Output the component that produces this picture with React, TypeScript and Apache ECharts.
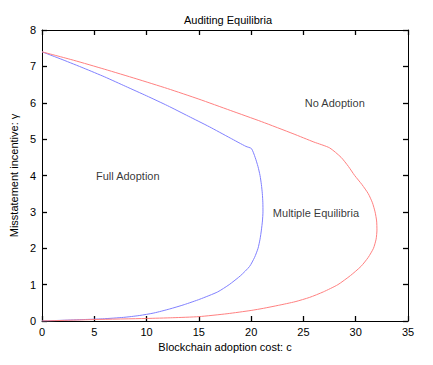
import React, { useEffect, useRef } from "react";
import * as echarts from "echarts";

const titleText = "Auditing Equilibria";
const xName = "Blockchain adoption cost: c";
const yName = "Misstatement incentive: γ";

// Full-adoption boundary (blue)
const blueCurve: [number, number][] = [
  [0, 7.4], [2, 7.18], [4, 6.95], [6, 6.71], [8, 6.45], [10, 6.19], [12, 5.92],
  [14, 5.63], [16, 5.34], [18, 5.03], [19.5, 4.8], [20.03, 4.74],
  [20.38, 4.5], [20.65, 4.25], [20.85, 4.0], [20.98, 3.75], [21.07, 3.5],
  [21.12, 3.25], [21.13, 3.0], [21.08, 2.75], [20.98, 2.5], [20.85, 2.25],
  [20.66, 2.0], [20.33, 1.75], [19.85, 1.5], [19.0, 1.25], [17.9, 1.0],
  [16.8, 0.8], [15.1, 0.6], [13.6, 0.45], [12.2, 0.33], [10.7, 0.22],
  [9.3, 0.15], [7.8, 0.1], [5.8, 0.06], [4.0, 0.04], [2.0, 0.02], [0, 0],
];

// No-adoption boundary (red)
const redCurve: [number, number][] = [
  [0, 7.4], [3, 7.17], [6, 6.92], [9, 6.66], [12, 6.39], [15, 6.1], [18, 5.79],
  [21, 5.48], [24, 5.15], [26, 4.92], [27.5, 4.76],
  [28.6, 4.5], [29.3, 4.25], [29.9, 4.0], [30.6, 3.75], [31.2, 3.5],
  [31.6, 3.25], [31.85, 3.0], [32.0, 2.75], [32.03, 2.5], [31.95, 2.25],
  [31.7, 2.0], [31.2, 1.75], [30.5, 1.5], [29.5, 1.25], [28.3, 1.0],
  [26.9, 0.8], [25.6, 0.65], [24.2, 0.53], [22.6, 0.43], [21.2, 0.35], [20.0, 0.29],
  [17.7, 0.2], [15.0, 0.12], [12.5, 0.09], [10.0, 0.07], [5.0, 0.04], [0, 0],
];

const regionLabels: { name: string; x: number; y: number }[] = [
  { name: "Full Adoption", x: 8.2, y: 4.0 },
  { name: "No Adoption", x: 28, y: 6.0 },
  { name: "Multiple Equilibria", x: 26.2, y: 2.98 },
];

const xTickValues = [0, 5, 10, 15, 20, 25, 30, 35];
const yTickValues = [0, 1, 2, 3, 4, 5, 6, 7, 8];

const FONT = "'Liberation Sans', Arial, sans-serif";
const TICK_LEN = 5;

export default function App() {
  const ref = useRef<HTMLDivElement>(null);
  useEffect(() => {
    document.body.style.margin = "0";
    if (!ref.current) return;
    const chart = echarts.init(ref.current, undefined, { renderer: "svg" });
    const xMin = xTickValues[0], xMax = xTickValues[xTickValues.length - 1];
    const yMin = yTickValues[0], yMax = yTickValues[yTickValues.length - 1];
    const axisLine = { show: true, onZero: false, lineStyle: { color: "#000000", width: 1 } };
    const axisTick = { show: true, inside: true, length: TICK_LEN, lineStyle: { color: "#000000", width: 1.3, opacity: 1 } };

    chart.setOption({
      animation: false,
      backgroundColor: "#ffffff",
      textStyle: { fontFamily: FONT },
      title: {
        text: titleText,
        left: 223,
        textAlign: "center",
        top: 9,
        textStyle: { fontSize: 11, fontWeight: "normal", color: "#000", fontFamily: FONT },
      },
      grid: { left: 38, right: 25, top: 30, bottom: 44, containLabel: false, show: false },
      xAxis: [
        {
          type: "value", min: xMin, max: xMax, interval: 5, position: "bottom",
          axisLine: { ...axisLine }, axisTick: { ...axisTick }, minorTick: { show: false },
          splitLine: { show: false },
          axisLabel: { color: "#000", fontSize: 11, margin: 5, fontFamily: FONT },
          name: xName, nameLocation: "middle", nameGap: 18,
          nameTextStyle: { color: "#000", fontSize: 11, fontFamily: FONT },
        },
        {
          type: "value", min: xMin, max: xMax, interval: 5, position: "top",
          axisLine: { ...axisLine }, axisTick: { ...axisTick }, splitLine: { show: false },
          axisLabel: { show: false },
        },
      ],
      yAxis: [
        {
          type: "value", min: yMin, max: yMax, interval: 1, position: "left",
          axisLine: { ...axisLine }, axisTick: { ...axisTick }, splitLine: { show: false },
          axisLabel: { color: "#000", fontSize: 11, margin: 6, fontFamily: FONT },
          name: yName, nameLocation: "middle", nameGap: 18, nameRotate: 90,
          nameTextStyle: { color: "#000", fontSize: 11, fontFamily: FONT },
        },
        {
          type: "value", min: yMin, max: yMax, interval: 1, position: "right",
          axisLine: { ...axisLine }, axisTick: { ...axisTick }, splitLine: { show: false },
          axisLabel: { show: false },
        },
      ],
      series: [
        {
          type: "line", data: blueCurve, showSymbol: false, smooth: 0.2,
          lineStyle: { color: "#8080ff", width: 1 }, itemStyle: { color: "#8080ff" },
        },
        {
          type: "line", data: redCurve, showSymbol: false, smooth: 0.2,
          lineStyle: { color: "#ff8080", width: 1 }, itemStyle: { color: "#ff8080" },
        },
        {
          type: "scatter",
          data: regionLabels.map((r) => ({ value: [r.x, r.y], name: r.name })),
          symbolSize: 0,
          label: {
            show: true, position: "inside", formatter: "{b}",
            color: "#000", fontSize: 11, fontFamily: FONT,
          },
        },
      ],
    });

    return () => chart.dispose();
  }, []);
  return <div ref={ref} style={{ width: 433, height: 365 }} />;
}
